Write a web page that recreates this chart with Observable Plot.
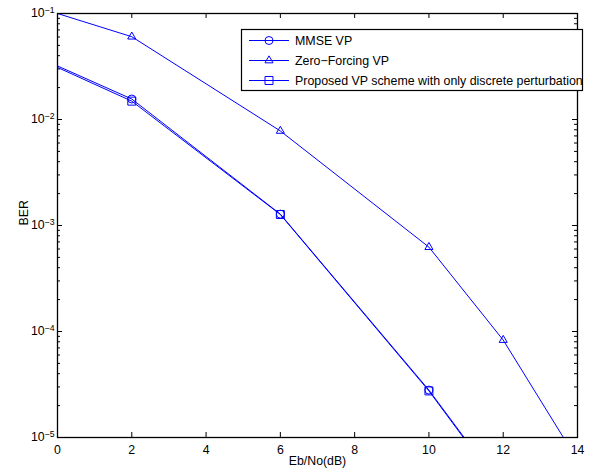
<!DOCTYPE html>
<html>
<head>
<meta charset="utf-8">
<script src="https://cdn.jsdelivr.net/npm/d3@7"></script>
<script src="https://cdn.jsdelivr.net/npm/@observablehq/plot@0.6"></script>
<style>
  html, body { margin: 0; padding: 0; background: white; }
</style>
</head>
<body>
<div id="chart"></div>
<script>
// ---- data ----
const seriesNames = ["MMSE VP", "Zero\u2212Forcing VP", "Proposed VP scheme with only discrete perturbation"];
const mmseSnr = [0, 2, 6, 10, 12];
const mmseBer = [0.032, 0.0156, 0.00128, 2.8e-5, 3.2e-6];
const zfSnr = [0, 2, 6, 10, 12, 14];
const zfBer = [0.1, 0.0604, 0.0078, 6.25e-4, 8.3e-5, 6.1e-6];
const propSnr = [0, 2, 6, 10, 12];
const propBer = [0.031, 0.0149, 0.00127, 2.75e-5, 3.1e-6];
const xTicks = [0, 2, 4, 6, 8, 10, 12, 14];
const yDecades = [1e-5, 1e-4, 1e-3, 1e-2, 1e-1];

const rows = (name, xs, ys) => xs.map((x, i) => ({series: name, x, y: ys[i]}));
const mmse = rows(seriesNames[0], mmseSnr, mmseBer);
const zf = rows(seriesNames[1], zfSnr, zfBer);
const prop = rows(seriesNames[2], propSnr, propBer);
const all = [...mmse, ...zf, ...prop];
// markers: only where visible in the reference (inside the axes, not at x = 0)
const visible = d => d.x > 0 && d.y >= 1e-5;

const yMinor = [];
for (let e = -5; e < -1; e++) for (let k = 2; k <= 9; k++) yMinor.push(k * Math.pow(10, e));

const W = 607, H = 472, mL = 57, mR = 30, mT = 13, mB = 35;
const iw = W - mL - mR, ih = H - mT - mB;
const blue = "rgb(0,0,255)";
const font = "'Liberation Sans', Arial, Helvetica, sans-serif";

const chart = Plot.plot({
  width: W, height: H,
  marginLeft: mL, marginRight: mR, marginTop: mT, marginBottom: mB,
  style: {fontFamily: font, fontSize: "12.3px", color: "black", background: "white"},
  x: {domain: [0, 14]},
  y: {type: "log", domain: [1e-5, 1e-1]},
  marks: [
    // inward ticks
    Plot.ruleX(xTicks, {x: d => d, insetTop: ih - 5, stroke: "black"}),
    Plot.ruleX(xTicks, {x: d => d, insetBottom: ih - 5, stroke: "black"}),
    Plot.ruleY(yDecades, {y: d => d, insetRight: iw - 5, stroke: "black"}),
    Plot.ruleY(yDecades, {y: d => d, insetLeft: iw - 5, stroke: "black"}),
    Plot.ruleY(yMinor, {y: d => d, insetRight: iw - 3, stroke: "black"}),
    Plot.ruleY(yMinor, {y: d => d, insetLeft: iw - 3, stroke: "black"}),
    Plot.axisX({ticks: xTicks, tickSize: 0, tickPadding: 8, tickFormat: d => String(d), label: null, fill: "black"}),
    Plot.axisY({ticks: yDecades, tickSize: 0, tickPadding: 3, label: null, fill: "black",
      tickFormat: d => "10^" + String(Math.round(Math.log10(d))).replace("-", "\u2212")}),
    Plot.line(all, {x: "x", y: "y", z: "series", stroke: blue, strokeWidth: 1, clip: true}),
    Plot.dot(mmse.filter(visible), {x: "x", y: "y", symbol: "circle", r: 4, stroke: blue, strokeWidth: 1, fill: "none"}),
    Plot.dot(zf.filter(visible), {x: "x", y: "y", symbol: "triangle", r: 3, stroke: blue, strokeWidth: 1, fill: "none"}),
    Plot.dot(prop.filter(visible), {x: "x", y: "y", symbol: "square", r: 4.5, stroke: blue, strokeWidth: 1, fill: "none"}),
    Plot.frame({stroke: "black", strokeWidth: 1.3}),
    Plot.text(["Eb/No(dB)"], {text: d => d, frameAnchor: "bottom", dy: 27, fill: "black"}),
    Plot.text(["BER"], {text: d => d, frameAnchor: "left", dx: -33, rotate: -90, fill: "black"})
  ]
});

// superscript exponents on y tick labels
d3.select(chart).selectAll('g[aria-label="y-axis tick label"] text').each(function() {
  const t = this.textContent.split("^");
  const sel = d3.select(this);
  sel.text(null);
  sel.append("tspan").text(t[0]);
  sel.append("tspan").attr("dy", "-0.55em").attr("font-size", "8.7px").text(t[1]);
});

// legend (inside the axes, top right)
const svg = d3.select(chart);
const lg = svg.append("g").attr("font-family", font).attr("font-size", "12.4px").attr("text-anchor", "start");
const bx = 241.5, by = 29.5, bw = 341, bh = 61;
lg.append("rect").attr("x", bx).attr("y", by).attr("width", bw).attr("height", bh)
  .attr("fill", "white").attr("stroke", "black").attr("stroke-width", 1.2);
const legendSymbols = [
  d3.symbol(d3.symbolCircle, Math.PI * 16),
  d3.symbol(d3.symbolTriangle, Math.PI * 9),
  d3.symbol(d3.symbolSquare, Math.PI * 4.5 * 4.5)
];
seriesNames.forEach((name, i) => {
  const cy = 40.5 + i * 20;
  lg.append("line").attr("x1", 249).attr("x2", 289).attr("y1", cy).attr("y2", cy)
    .attr("stroke", blue).attr("stroke-width", 1);
  lg.append("path").attr("d", legendSymbols[i]()).attr("transform", `translate(269,${cy})`)
    .attr("fill", "none").attr("stroke", blue).attr("stroke-width", 1);
  lg.append("text").attr("x", 295).attr("y", cy).attr("dy", "0.35em")
    .attr("text-anchor", "start").attr("fill", "black").text(name);
});

document.getElementById("chart").appendChild(chart);
</script>
</body>
</html>
